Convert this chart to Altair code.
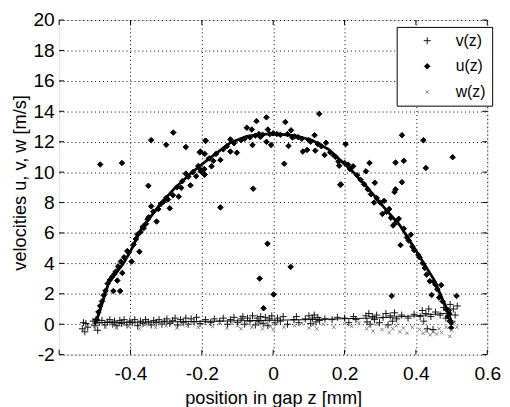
import altair as alt
import pandas as pd

FONT = "Liberation Sans"

series_names = ["v(z)", "u(z)", "w(z)"]
x_ticks = [-0.6, -0.4, -0.2, 0, 0.2, 0.4, 0.6]
x_labels = [-0.4, -0.2, 0, 0.2, 0.4, 0.6]
y_ticks = [-2, 0, 2, 4, 6, 8, 10, 12, 14, 16, 18, 20]

# v(z) measured points (z [mm], v [m/s])
v_pts = [(-0.535,-0.3),(-0.532,0.1),(-0.528,-0.5),(-0.525,0.05),(-0.52,-0.2),(-0.505,0.2),(-0.5,-0.1),(-0.497,0.3),
         (-0.492,-0.4),(-0.488,0.1),(-0.48,0.25),(-0.472,-0.05),(-0.465,0.15),(-0.458,0.3),(-0.45,0.0),(-0.445,0.2),
         (-0.438,-0.1),(-0.43,0.25),(-0.425,0.05),(-0.418,0.3),(-0.41,-0.05),(-0.402,0.2),(-0.395,0.1),(-0.388,0.3),
         (-0.38,-0.1),(-0.372,0.2),(-0.365,0.05),(-0.358,0.3),(-0.35,0.15),(-0.342,-0.05),(-0.335,0.25),(-0.328,0.1),
         (-0.32,0.3),(-0.312,0.0),(-0.305,0.2),(-0.298,0.35),(-0.29,0.05),(-0.282,0.25),(-0.275,0.4),(-0.268,-0.05),
         (-0.26,0.3),(-0.252,0.1),(-0.245,0.4),(-0.238,0.0),(-0.23,0.35),(-0.222,0.15),(-0.215,0.45),(-0.205,0.05),
         (-0.19,0.3),(-0.175,0.1),(-0.165,0.35),(-0.15,0.2),(-0.14,0.4),(-0.128,0.0),(-0.12,0.3),(-0.11,0.45),
         (-0.1,0.1),(-0.09,0.35),(-0.085,0.5),(-0.08,0.0),(-0.072,0.4),(-0.065,0.2),(-0.058,0.55),(-0.05,-0.05),
         (-0.045,0.4),(-0.04,0.15),(-0.035,0.5),(-0.028,0.05),(-0.022,0.45),(-0.015,-0.1),(-0.01,0.35),(-0.004,0.55),
         (0.005,0.1),(0.012,0.4),(0.02,0.2),(0.028,0.5),(0.04,0.0),(0.058,0.3),(0.065,0.5),(0.072,0.1),(0.09,0.35),
         (0.1,0.55),(0.105,0.05),(0.11,0.4),(0.115,0.6),(0.12,0.15),(0.125,0.45),(0.13,0.25),(0.145,0.35),(0.165,0.3),
         (0.18,0.45),(0.2,0.4),(0.212,0.1),(0.225,0.5),(0.232,0.3),(0.26,0.55),(0.263,0.15),(0.268,0.7),(0.272,0.0),
         (0.278,0.5),(0.284,0.3),(0.29,0.6),(0.298,0.1),(0.308,0.45),(0.316,0.7),(0.322,-0.05),(0.328,0.55),(0.334,0.2),
         (0.34,0.75),(0.346,0.35),(0.36,0.6),(0.378,0.4),(0.395,0.65),(0.412,0.5),(0.418,0.9),(0.422,0.2),(0.428,0.7),
         (0.432,-0.3),(0.436,1.0),(0.442,0.5),(0.448,-0.35),(0.455,0.8),(0.468,0.6),(0.478,1.1),(0.484,0.4),(0.49,0.9),
         (0.496,1.3),(0.5,0.2),(0.505,1.0),(0.51,0.6),(0.516,1.2)]

# u(z) measured points
u_pts = [(-0.485,10.5),(-0.424,10.6),(-0.342,12.1),(-0.30,11.8),(-0.28,12.6),(-0.245,11.65),(-0.19,12.06),(-0.35,9.1),
         (-0.206,11.3),(-0.464,2.67),(-0.448,2.18),(-0.429,2.18),(-0.437,2.87),(-0.441,3.47),(-0.427,4.12),(-0.423,3.37),
         (-0.409,4.81),(-0.397,4.12),(-0.391,5.24),(-0.375,4.77),(-0.372,6.06),(-0.363,6.32),(-0.357,6.6),(-0.349,7.03),
         (-0.342,7.75),(-0.327,6.75),(-0.322,7.57),(-0.308,8.05),(-0.29,7.62),(-0.281,8.48),(-0.265,8.39),(-0.258,8.97),
         (-0.245,9.9),(-0.232,9.13),(-0.216,9.73),(-0.203,10.05),(-0.193,9.84),(-0.193,10.2),
         (-0.495,0.3),(-0.49,0.8),(-0.485,1.2),(-0.48,1.5),(-0.475,1.9),(-0.47,2.2),(-0.458,2.9),(-0.452,3.1),
         (-0.445,3.3),(-0.435,3.8),(-0.418,4.4),(-0.405,4.7),(-0.385,5.6),(-0.38,5.9),(-0.366,6.4),(-0.352,6.9),
         (-0.336,7.4),(-0.315,7.9),(-0.3,8.3),(-0.295,8.2),(-0.27,9.0),(-0.255,9.4),(-0.238,9.7),(-0.225,10.0),(-0.21,10.4),
         (-0.204,11.35),(-0.192,11.2),(-0.189,12.06),(-0.204,10.16),(-0.192,9.84),(-0.173,10.38),(-0.168,10.74),
         (-0.148,10.8),(-0.12,12.15),(-0.12,11.35),(-0.102,11.28),(-0.074,12.92),(-0.06,12.8),(-0.058,11.78),
         (-0.047,13.35),(-0.036,12.32),(-0.019,13.6),(-0.015,12.8),(-0.019,11.99),(-0.006,11.78),(0.034,13.29),
         (0.043,11.72),(0.05,12.75),(0.054,12.28),(0.031,10.55),(0.129,13.83),(0.083,11.35),(0.095,11.46),(0.118,11.41),
         (0.116,12.43),(0.144,11.13),(0.148,11.93),(0.185,10.42),(0.188,9.17),(-0.056,8.91),(-0.148,7.68),(-0.016,5.29),
         (0.049,3.77),(-0.038,3.0),(0.001,1.96),(-0.027,1.05),(-0.065,12.28),
         (-0.18,10.9),(-0.16,11.2),(-0.14,11.5),(-0.13,11.7),(-0.11,11.9),(-0.09,12.1),(-0.08,12.2),(-0.05,12.4),
         (-0.04,12.5),(-0.03,12.45),(-0.01,12.5),(0.0,12.55),(0.01,12.5),(0.02,12.45),(0.04,12.5),(0.06,12.35),
         (0.07,12.3),(0.08,12.2),(0.1,12.1),(0.105,12.0),(0.125,11.85),(0.135,11.7),(0.16,11.3),(0.17,11.1),(0.175,11.0),
         (0.203,11.84),(0.19,9.19),(0.361,12.43),(0.421,12.1),(0.503,10.98),(0.343,10.63),(0.366,10.74),(0.428,10.27),
         (0.361,9.34),(0.343,8.87),(0.34,8.69),(0.332,1.86),(0.514,1.86),(0.386,5.89),(0.357,5.2),(0.27,10.6),
         (0.26,10.05),(0.285,9.3),(0.306,7.25),(0.336,6.49),(0.471,2.57),(0.444,1.92),(0.499,-0.24),
         (0.183,10.7),(0.21,10.49),(0.224,10.38),(0.265,8.87),(0.274,8.54),(0.283,8.0),(0.311,8.11),(0.325,7.57),
         (0.352,6.93),(0.366,6.28),(0.395,4.87),(0.407,4.55),(0.419,4.01),(0.43,3.26),(0.439,2.83),(0.465,1.75),
         (0.485,0.99),(0.494,0.67),(0.2,10.6),(0.215,10.2),(0.235,9.8),(0.245,9.5),(0.255,9.2),(0.29,8.3),(0.3,8.0),
         (0.318,7.4),(0.33,7.0),(0.345,6.7),(0.375,5.7),(0.38,5.5),(0.39,5.1),(0.41,4.4),(0.425,3.7),(0.45,2.8),
         (0.455,2.6),(0.46,2.3),(0.475,1.5),(0.49,0.5),(0.495,0.2),(0.5,0.1),(0.492,0.9)]

# w(z) measured points
w_pts = [(-0.53,-0.4),(-0.52,-0.1),(-0.5,-0.3),(-0.49,0.1),(-0.47,-0.2),(-0.455,0.0),(-0.44,-0.25),(-0.42,0.05),
         (-0.405,-0.15),(-0.39,0.1),(-0.375,-0.3),(-0.36,-0.05),(-0.345,0.1),(-0.33,-0.2),(-0.315,0.05),(-0.3,-0.1),
         (-0.285,0.15),(-0.27,-0.25),(-0.255,0.0),(-0.24,-0.1),(-0.225,0.1),(-0.21,-0.2),(-0.19,0.05),(-0.17,-0.15),
         (-0.15,0.1),(-0.13,-0.25),(-0.115,0.05),(-0.1,-0.1),(-0.09,-0.3),(-0.075,0.1),(-0.06,-0.2),(-0.045,0.0),
         (-0.03,-0.3),(-0.02,0.1),(-0.008,-0.15),(0.0,-0.35),(0.01,0.05),(0.03,-0.2),(0.06,-0.1),(0.08,0.05),
         (0.1,-0.25),(0.112,-0.05),(0.122,-0.3),(0.14,0.0),(0.17,-0.2),(0.2,0.05),(0.22,-0.15),(0.24,0.1),(0.262,-0.3),
         (0.27,-0.1),(0.28,-0.45),(0.292,0.0),(0.305,-0.35),(0.318,-0.15),(0.325,-0.55),(0.335,-0.3),(0.345,-0.1),
         (0.355,-0.5),(0.365,-0.25),(0.375,-0.6),(0.39,-0.2),(0.41,-0.35),(0.42,-0.6),(0.43,-0.45),(0.44,-0.7),
         (0.448,-0.5),(0.458,-0.65),(0.465,-0.3),(0.472,-0.55),(0.485,-0.2),(0.495,-0.8),(0.5,-0.4),(0.508,0.1),
         (0.515,-0.2)]

# fitted profiles
u_fit = [(-0.5,0.0),(-0.49,0.6),(-0.46,2.8),(-0.42,4.0),(-0.4,4.8),(-0.37,6.25),(-0.32,7.8),(-0.28,8.85),
         (-0.23,9.94),(-0.184,10.8),(-0.12,11.93),(-0.074,12.36),(-0.028,12.5),(0.017,12.5),(0.063,12.38),
         (0.109,12.1),(0.155,11.5),(0.19,10.75),(0.22,10.1),(0.26,9.1),(0.31,7.7),(0.355,6.5),(0.4,4.85),
         (0.45,2.95),(0.485,1.1),(0.5,0.0)]
v_fit = [(-0.5,0.1),(-0.3,0.15),(-0.1,0.22),(0.1,0.3),(0.3,0.42),(0.4,0.55),(0.45,0.65),(0.5,0.75)]

rows = []
for name, pts in (("v(z)", v_pts), ("u(z)", u_pts), ("w(z)", w_pts)):
    for z, val in pts:
        rows.append({"z": z, "val": val, "series": name})
pts_df = pd.DataFrame(rows)
ufit_df = pd.DataFrame(u_fit, columns=["z", "val"])
vfit_df = pd.DataFrame(v_fit, columns=["z", "val"])
xt_df = pd.DataFrame({"z": x_ticks})
yt_df = pd.DataFrame({"val": y_ticks})

xs = alt.Scale(domain=[-0.6, 0.6], nice=False, zero=False)
ys = alt.Scale(domain=[-2, 20], nice=False, zero=False)

x_axis = alt.Axis(values=x_labels, labelExpr="toString(datum.value)", title="position in gap z [mm]",
                  ticks=False, domain=False, grid=True, gridDash=[1, 3], gridColor="black", gridOpacity=1,
                  labelFontSize=19.5, labelColor="black", labelFont=FONT, labelPadding=10, labelFlush=False,
                  titleFontSize=18.5, titleFont=FONT, titleFontWeight="normal", titleColor="black",
                  titleY=50, titleBaseline="alphabetic")
y_axis = alt.Axis(values=y_ticks, labelExpr="toString(datum.value)", title="velocities u, v, w [m/s]",
                  ticks=False, domain=False, grid=True, gridDash=[1, 3], gridColor="black", gridOpacity=1,
                  labelFontSize=19.5, labelColor="black", labelFont=FONT, labelPadding=5, labelFlush=False,
                  titleFontSize=18.5, titleFont=FONT, titleFontWeight="normal", titleColor="black",
                  titleX=-34, titleY=165, titleAngle=270, titleAlign="center", titleBaseline="alphabetic")

leg = alt.Legend(title=None, orient="none", legendX=343, legendY=7, strokeColor="black", fillColor="white",
                 padding=6, labelFontSize=16, labelFont=FONT, labelColor="black", symbolOffset=17,
                 labelOffset=21, rowPadding=10, cornerRadius=0, symbolStrokeWidth=1)

X = alt.X("z:Q", scale=xs, axis=x_axis)
Y = alt.Y("val:Q", scale=ys, axis=y_axis)

points = alt.Chart(pts_df).mark_point(strokeWidth=1, opacity=1).encode(
    x=X, y=Y,
    shape=alt.Shape("series:N", sort=series_names,
                    scale=alt.Scale(domain=series_names,
                                    range=["M-1,0H1M0,-1V1", "diamond", "M-1,-1L1,1M-1,1L1,-1"]), legend=leg),
    color=alt.Color("series:N", sort=series_names,
                    scale=alt.Scale(domain=series_names, range=["#111111", "#000000", "#808080"]), legend=leg),
    fill=alt.Fill("series:N", sort=series_names,
                  scale=alt.Scale(domain=series_names, range=["transparent", "#000000", "transparent"]), legend=leg),
    size=alt.Size("series:N", sort=series_names,
                  scale=alt.Scale(domain=series_names, range=[50, 12, 28]), legend=leg),
)

ufit = alt.Chart(ufit_df).mark_line(color="black", strokeWidth=2.8).encode(x=X, y=Y)
vfit = alt.Chart(vfit_df).mark_line(color="black", strokeWidth=1).encode(x=X, y=Y)

tb = alt.Chart(xt_df).mark_rule(color="black", strokeWidth=1).encode(
    x=X, y=alt.value(340), y2=alt.value(335))
tt = alt.Chart(xt_df).mark_rule(color="black", strokeWidth=1).encode(
    x=X, y=alt.value(0), y2=alt.value(5))
tl = alt.Chart(yt_df).mark_rule(color="black", strokeWidth=1).encode(
    y=Y, x=alt.value(0), x2=alt.value(5))
tr = alt.Chart(yt_df).mark_rule(color="black", strokeWidth=1).encode(
    y=Y, x=alt.value(435), x2=alt.value(430))

chart = alt.layer(points, ufit, vfit, tb, tt, tl, tr).properties(
    width=435, height=340,
    autosize=alt.AutoSizeParams(type="none"),
    padding={"left": 52, "top": 9, "right": 15, "bottom": 50},
    background="white",
).configure_view(stroke="black", strokeWidth=1).configure(font=FONT)

chart.save("out.html", embed_options={"renderer": "svg", "actions": False})
